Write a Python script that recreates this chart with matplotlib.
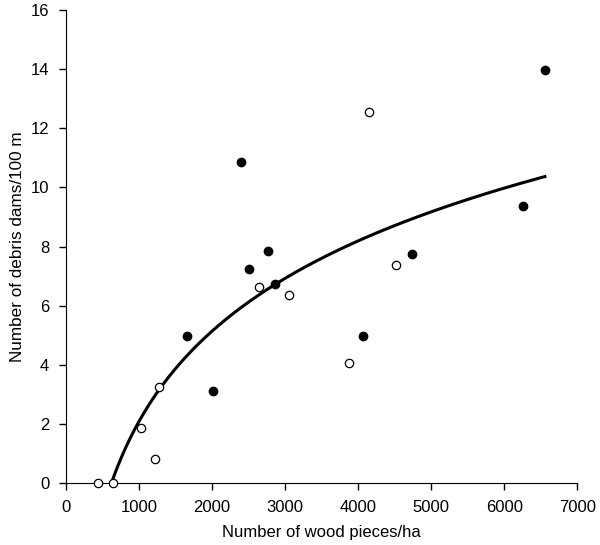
import numpy as np
import matplotlib
matplotlib.use('Agg')
import matplotlib.pyplot as plt

plt.rcParams['font.family'] = ['Liberation Sans', 'DejaVu Sans']

# open circles
open_x = [438, 643, 1027, 1218, 1273, 2646, 3053, 3878, 4144, 4513]
open_y = [0, 0, 1.87, 0.82, 3.26, 6.65, 6.36, 4.06, 12.55, 7.38]

# filled circles
filled_x = [1652, 2008, 2396, 2505, 2761, 2865, 4062, 4741, 6260, 6557]
filled_y = [4.98, 3.13, 10.85, 7.24, 7.85, 6.75, 4.99, 7.76, 9.37, 13.98]

# log fit y = a*ln(x) + b
fit_a = 4.40
fit_b = -28.30
fit_start = 620
fit_end = 6557

fig = plt.figure(figsize=(6, 5.45), dpi=100)
ax = fig.add_axes([0.11, 0.1132, 0.852, 0.8685])

xs = np.linspace(fit_start, fit_end, 300)
ax.plot(xs, fit_a * np.log(xs) + fit_b, color='black', lw=2.2, zorder=2)

ax.plot(open_x, open_y, 'o', ms=6, mfc='white', mec='black', mew=0.9, zorder=3, clip_on=False)
ax.plot(filled_x, filled_y, 'o', ms=6, mfc='black', mec='black', zorder=3, clip_on=False)

ax.set_xlim(0, 7000)
ax.set_ylim(0, 16)
ax.set_xticks(range(0, 7001, 1000))
ax.set_yticks(range(0, 17, 2))
ax.spines['top'].set_visible(False)
ax.spines['right'].set_visible(False)
ax.tick_params(direction='out', length=5, width=1, labelsize=12, pad=7)
ax.set_xlabel('Number of wood pieces/ha', fontsize=12, labelpad=7)
ax.set_ylabel('Number of debris dams/100 m', fontsize=12.3, labelpad=4)

fig.savefig('out.png', dpi=100)
